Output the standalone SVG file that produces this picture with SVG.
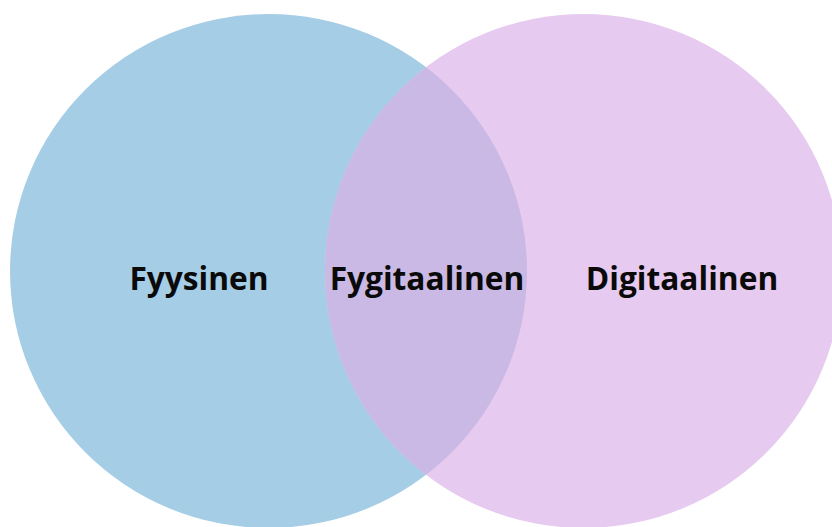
<svg xmlns="http://www.w3.org/2000/svg" width="832" height="527" viewBox="0 0 832 527">
<style>
.lbl{font-family:"Open Sans","Noto Sans","Liberation Sans",sans-serif;font-weight:700;font-size:31.7px;fill:#0a0a0a;text-anchor:middle}
</style>
<defs>
<clipPath id="clipL"><ellipse cx="268.5" cy="271" rx="258.5" ry="257"/></clipPath>
</defs>
<rect width="832" height="527" fill="#ffffff"/>
<g id="fyysinen">
<ellipse cx="268.5" cy="271" rx="258.5" ry="257" fill="#a6cde6"/>
<text class="lbl" x="199" y="290">Fyysinen</text>
</g>
<g id="digitaalinen">
<ellipse cx="583.5" cy="271" rx="258.5" ry="257" fill="#e6caf0"/>
<ellipse cx="583.5" cy="271" rx="258.5" ry="257" fill="#c9b9e4" clip-path="url(#clipL)"/>
<text class="lbl" x="682" y="290">Digitaalinen</text>
</g>
<g id="fygitaalinen">
<text class="lbl" x="427" y="290">Fygitaalinen</text>
</g>
<g id="connectors"></g>
</svg>
